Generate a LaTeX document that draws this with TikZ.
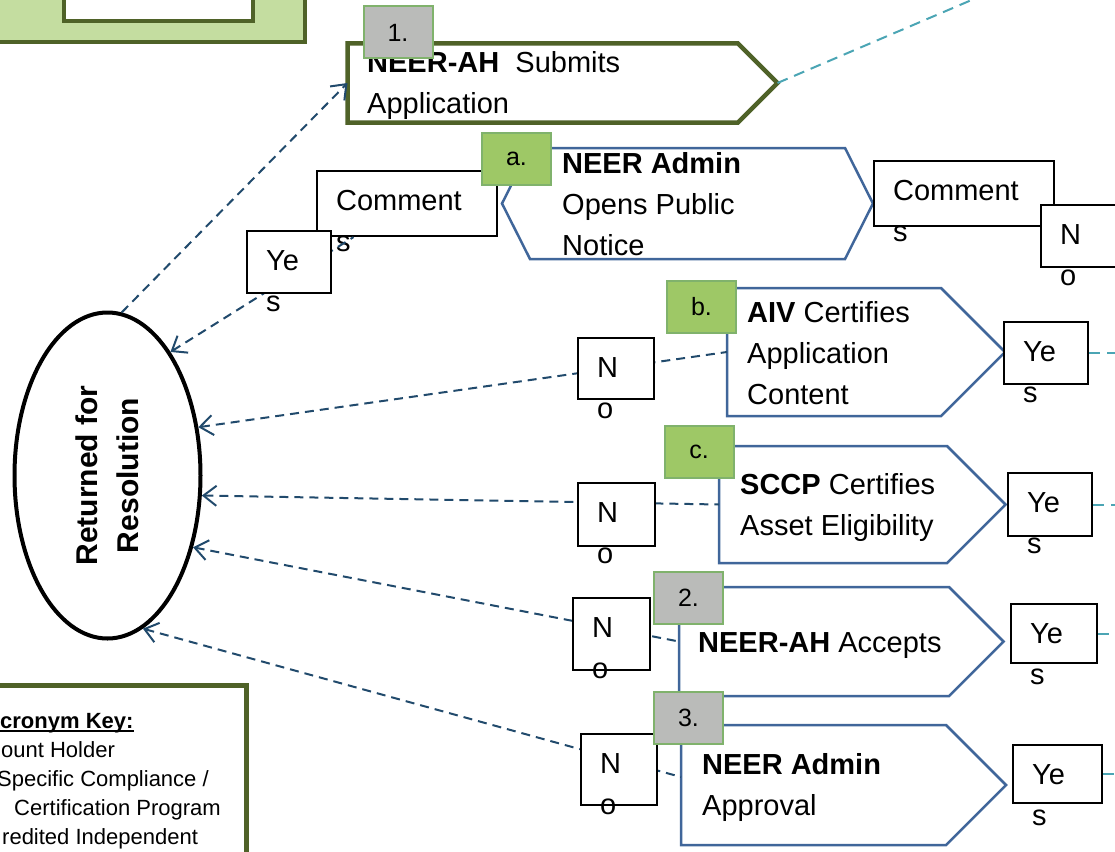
\documentclass[tikz,border=0pt]{standalone}
\usepackage{fontspec}
\setmainfont{Liberation Sans}
\usepackage{tikz}
\usetikzlibrary{arrows.meta,positioning}
\usetikzlibrary{shapes.geometric}

\definecolor{leafgreen}{RGB}{79,98,40}
\definecolor{palegreen}{RGB}{196,221,160}
\definecolor{taggreen}{RGB}{158,200,102}
\definecolor{tagedge}{RGB}{128,178,108}
\definecolor{taggray}{RGB}{186,187,185}
\definecolor{stepblue}{RGB}{64,102,154}
\definecolor{linkblue}{RGB}{33,74,108}
\definecolor{linkteal}{RGB}{75,165,180}

% arrow-shaped step: name, left x, top y, corner x, bottom y
\newcommand{\steparrow}[6][]{%
  \draw[stepline,#1] (#3,#4) -- (#5,#4) -- ({#5+(#6-#4)/2},{(#4+#6)/2})
    -- (#5,#6) -- (#3,#6) -- cycle;
  \coordinate (#2-in) at (#3,{(#4+#6)/2});
  \coordinate (#2-out) at ({#5+(#6-#4)/2},{(#4+#6)/2});
}
% box whose two-line text runs out of it: name, centre, width, height, text
\newcommand{\wrapbox}[5]{%
  \node[wrapframe, minimum width=#3pt, minimum height=#4pt] (#1) at (#2) {};
  \node[wraptext] (#1-txt) at ([shift={(20,82)}]#1.north west) {#5};
}

\begin{document}
\begin{tikzpicture}[x=1pt, y=-1pt, >={Straight Barb[length=13pt,width=20pt]},
    stepline/.style={draw=stepblue, line width=2.5pt, fill=white},
    steptext/.style={anchor=base west, align=left, inner sep=0pt, font=\fontsize{29}{41}\selectfont},
    wrapframe/.style={draw, line width=2.2pt, fill=white, inner sep=0pt},
    wraptext/.style={anchor=base west, align=left, inner sep=0pt, font=\fontsize{29}{41}\selectfont},
    tag/.style={draw=tagedge, line width=2pt, minimum width=69pt, minimum height=52pt, inner sep=0pt, font=\fontsize{25}{25}\selectfont},
    leafframe/.style={draw=leafgreen, line width=4.5pt},
    keytext/.style={anchor=base west, inner sep=0pt, font=\fontsize{22}{29}\selectfont},
    link/.style={draw=linkblue, line width=2pt, dash pattern=on 9pt off 6pt},
    flow/.style={draw=linkteal, line width=2pt, dash pattern=on 11pt off 7pt}]
    \useasboundingbox (0,0) rectangle (1115,851);
    \clip (0,0) rectangle (1115,851);

    % Corner boxes
    \draw[leafframe, fill=palegreen] (-10,-10) rectangle (305,42);
    \draw[leafframe, fill=white] (64,-10) rectangle (253,21);
    \draw[leafframe, line width=5pt, fill=white] (-10,685) rectangle (246.5,880);
    \node[keytext] (key-title) at (0,728) {\textbf{cronym Key:}};
    \draw[line width=1.6pt] ([yshift=-3pt]key-title.base west) -- ([yshift=-3pt]key-title.base east);
    \node[keytext] (key-ah) at (1,757) {ount Holder};
    \node[keytext] (key-sc) at (-3,786) {Specific Compliance /};
    \node[keytext] (key-cp) at (14,815) {Certification Program};
    \node[keytext] (key-ai) at (2,844) {redited Independent};

    % Steps (text placed by its last line)
    \steparrow[draw=leafgreen, line width=4.5pt]{step1}{347.5}{43.5}{738}{122.5}
    \draw[stepline] (530,148) -- (845,148) -- (873,203.5) -- (845,259)
      -- (530,259) -- (502,203.5) -- cycle;
    \steparrow{stepB}{727}{288}{941}{416}
    \steparrow{stepC}{719}{446}{947}{563}
    \steparrow{step2}{679}{587}{949}{696}
    \steparrow{step3}{681}{725}{946}{845}
    \node[steptext] (step1-txt) at (367,113) {\textbf{NEER-AH}\ \ Submits\\Application};
    \node[steptext] (stepA-txt) at (562,255) {\textbf{NEER Admin}\\Opens Public\\Notice};
    \node[steptext] (stepB-txt) at (747,404) {\textbf{AIV} Certifies\\Application\\Content};
    \node[steptext] (stepC-txt) at (740,535) {\textbf{SCCP} Certifies\\Asset Eligibility};
    \node[steptext] (step2-txt) at (698,652) {\textbf{NEER-AH} Accepts};
    \node[steptext] (step3-txt) at (702,815) {\textbf{NEER Admin}\\Approval};

    % Returned
    \node[ellipse, draw, line width=4pt, minimum width=186pt, minimum height=326pt, inner sep=0pt] (ret) at (107.5,475.5) {};
    \node[rotate=90, align=center, inner sep=0pt, font=\bfseries\fontsize{30}{41}\selectfont] (ret-txt) at (ret.center) {Returned for\\Resolution};

    % Comments
    \wrapbox{cmtA}{407,203.5}{180}{65}{Comment\\s}
    \wrapbox{cmtR}{964,193.5}{180}{65}{Comment\\s}

    % Connectors
    \coordinate (offTop) at (995,-10);
    \coordinate (edgeR) at (1130,0);
    \draw[link, ->] (ret.85) -- (step1-in);
    \draw[link, <-] (ret.63) -- (cmtA);
    \draw[link, <-] (ret.28) -- (stepB-in);
    \draw[link, <-] (ret.-12) -- (stepC-in);
    \draw[link, <-] (ret.-40) -- (step2-in);
    \draw[link, <-] (ret.-77) -- ([yshift=8pt]step3-in);
    \draw[flow] (step1-out) -- (offTop);

    % Yes / No
    \wrapbox{yesA}{289,262}{84}{62}{Ye\\s}
    \wrapbox{noR}{1080,236}{78}{62}{N\\o}
    \wrapbox{noB}{616,368.5}{76}{61}{N\\o}
    \wrapbox{yesB}{1046,353}{84}{62}{Ye\\s}
    \wrapbox{noC}{616.5,514.5}{77}{63}{N\\o}
    \wrapbox{yesC}{1050,504.5}{84}{63}{Ye\\s}
    \wrapbox{no2}{611.5,634}{77}{72}{N\\o}
    \wrapbox{yes2}{1054,633.5}{86}{59}{Ye\\s}
    \wrapbox{no3}{619,769.5}{76}{71}{N\\o}
    \wrapbox{yes3}{1057.5,774}{89}{58}{Ye\\s}
    \foreach \yn in {yesB,yesC,yes2,yes3}
      \draw[flow] (\yn) -- (\yn -| edgeR);

    % Tags
    \node[tag, fill=taggray] (tag1) at (398,32.5) {1.};
    \node[tag, fill=taggreen] (tagA) at (516.5,159) {a.};
    \node[tag, fill=taggreen] (tagB) at (701.5,306.5) {b.};
    \node[tag, fill=taggreen] (tagC) at (699,452) {c.};
    \node[tag, fill=taggray] (tag2) at (688.5,597.5) {2.};
    \node[tag, fill=taggray] (tag3) at (688.5,718) {3.};
  \end{tikzpicture}
\end{document}
